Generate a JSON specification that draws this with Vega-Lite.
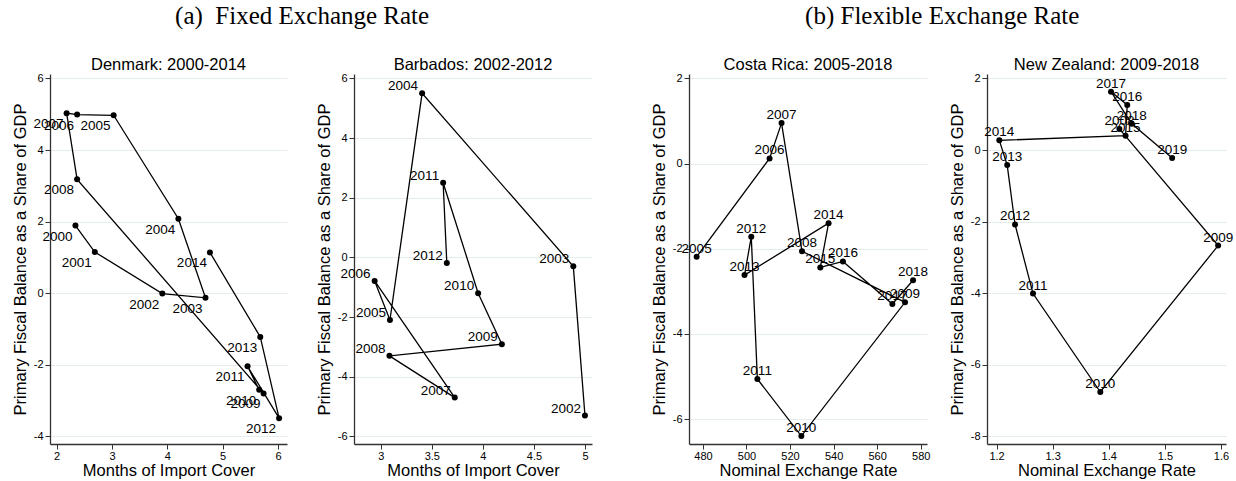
{
  "$schema": "https://vega.github.io/schema/vega-lite/v6.json",
  "padding": {"left": 12, "top": 4, "right": 0, "bottom": 0},
  "background": "white",
  "config": {
    "view": {"stroke": null},
    "font": "Liberation Sans",
    "axis": {"domainColor": "#333333", "domainWidth": 1.3, "tickColor": "#333333", "tickSize": 5, "labelColor": "#000000", "labelFontSize": 11, "labelFont": "Liberation Sans", "titleFont": "Liberation Sans", "titleFontSize": 16.5, "titleFontWeight": "normal", "titleColor": "#000000", "labelExpr": "'' + datum.value"},
    "axisX": {"grid": false, "titlePadding": 1, "labelPadding": 1},
    "axisY": {"grid": true, "gridColor": "#E4ECEE", "gridWidth": 1, "labelPadding": 2, "titlePadding": 5},
    "title": {"fontSize": 16.5, "fontWeight": "normal", "font": "Liberation Sans", "color": "#000000", "offset": -1.4}
  },
  "datasets": {
    "denmark": [
      {"year": 2000, "x": 2.34, "y": 1.89},
      {"year": 2001, "x": 2.69, "y": 1.15},
      {"year": 2002, "x": 3.91, "y": -0.01},
      {"year": 2003, "x": 4.69, "y": -0.13},
      {"year": 2004, "x": 4.20, "y": 2.08},
      {"year": 2005, "x": 3.03, "y": 4.97},
      {"year": 2006, "x": 2.37, "y": 4.99},
      {"year": 2007, "x": 2.18, "y": 5.03},
      {"year": 2008, "x": 2.37, "y": 3.18},
      {"year": 2009, "x": 5.74, "y": -2.80},
      {"year": 2010, "x": 5.66, "y": -2.70},
      {"year": 2011, "x": 5.45, "y": -2.04},
      {"year": 2012, "x": 6.02, "y": -3.49},
      {"year": 2013, "x": 5.68, "y": -1.22},
      {"year": 2014, "x": 4.77, "y": 1.14}
    ],
    "barbados": [
      {"year": 2002, "x": 5.00, "y": -5.30},
      {"year": 2003, "x": 4.886, "y": -0.30},
      {"year": 2004, "x": 3.405, "y": 5.50},
      {"year": 2005, "x": 3.09, "y": -2.10},
      {"year": 2006, "x": 2.94, "y": -0.79},
      {"year": 2007, "x": 3.725, "y": -4.70},
      {"year": 2008, "x": 3.085, "y": -3.30},
      {"year": 2009, "x": 4.186, "y": -2.91},
      {"year": 2010, "x": 3.954, "y": -1.20},
      {"year": 2011, "x": 3.611, "y": 2.50},
      {"year": 2012, "x": 3.647, "y": -0.19}
    ],
    "costarica": [
      {"year": 2005, "x": 477.1, "y": -2.19},
      {"year": 2006, "x": 510.6, "y": 0.12},
      {"year": 2007, "x": 516.1, "y": 0.95},
      {"year": 2008, "x": 525.5, "y": -2.06},
      {"year": 2009, "x": 572.8, "y": -3.26},
      {"year": 2010, "x": 525.2, "y": -6.40},
      {"year": 2011, "x": 505.0, "y": -5.06},
      {"year": 2012, "x": 502.2, "y": -1.72},
      {"year": 2013, "x": 499.1, "y": -2.62},
      {"year": 2014, "x": 537.7, "y": -1.40},
      {"year": 2015, "x": 533.9, "y": -2.44},
      {"year": 2016, "x": 544.3, "y": -2.30},
      {"year": 2017, "x": 567.0, "y": -3.30},
      {"year": 2018, "x": 576.5, "y": -2.74}
    ],
    "newzealand": [
      {"year": 2008, "x": 1.419, "y": 0.59},
      {"year": 2009, "x": 1.595, "y": -2.67},
      {"year": 2010, "x": 1.385, "y": -6.76},
      {"year": 2011, "x": 1.265, "y": -4.01},
      {"year": 2012, "x": 1.233, "y": -2.08},
      {"year": 2013, "x": 1.219, "y": -0.42},
      {"year": 2014, "x": 1.205, "y": 0.27},
      {"year": 2015, "x": 1.430, "y": 0.40},
      {"year": 2016, "x": 1.433, "y": 1.26},
      {"year": 2017, "x": 1.404, "y": 1.63},
      {"year": 2018, "x": 1.441, "y": 0.73},
      {"year": 2019, "x": 1.513, "y": -0.22}
    ]
  },
  "spacing": 59,
  "hconcat": [
    {
      "title": {"text": "(a)\u00a0 Fixed Exchange Rate", "font": "Liberation Serif", "fontSize": 25, "offset": 28, "anchor": "middle"},
      "spacing": 29,
      "hconcat": [
        {
          "title": "Denmark: 2000-2014",
          "width": 237, "height": 370,
          "data": {"name": "denmark"},
          "encoding": {
            "x": {"field": "x", "type": "quantitative", "scale": {"domain": [1.88, 6.163], "nice": false, "zero": false}, "axis": {"values": [2, 3, 4, 5, 6], "title": "Months of Import Cover"}},
            "y": {"field": "y", "type": "quantitative", "scale": {"domain": [-4.212, 6.123], "nice": false, "zero": false}, "axis": {"values": [-4, -2, 0, 2, 4, 6], "title": "Primary Fiscal Balance as a Share of GDP"}}
          },
          "layer": [
            {"mark": {"type": "line", "color": "#000000", "strokeWidth": 1.3}, "encoding": {"order": {"field": "year", "type": "quantitative"}}},
            {"mark": {"type": "point", "filled": true, "color": "#000000", "size": 36, "opacity": 1}},
            {"mark": {"type": "text", "align": "right", "baseline": "middle", "dx": -3, "dy": 11, "fontSize": 13.5, "color": "#000000"}, "encoding": {"text": {"field": "year", "type": "nominal"}}}
          ]
        },
        {
          "title": "Barbados: 2002-2012",
          "width": 238, "height": 370,
          "data": {"name": "barbados"},
          "encoding": {
            "x": {"field": "x", "type": "quantitative", "scale": {"domain": [2.738, 5.069], "nice": false, "zero": false}, "axis": {"values": [3, 3.5, 4, 4.5, 5], "title": "Months of Import Cover"}},
            "y": {"field": "y", "type": "quantitative", "scale": {"domain": [-6.255, 6.147], "nice": false, "zero": false}, "axis": {"values": [-6, -4, -2, 0, 2, 4, 6], "title": "Primary Fiscal Balance as a Share of GDP"}}
          },
          "layer": [
            {"mark": {"type": "line", "color": "#000000", "strokeWidth": 1.3}, "encoding": {"order": {"field": "year", "type": "quantitative"}}},
            {"mark": {"type": "point", "filled": true, "color": "#000000", "size": 36, "opacity": 1}},
            {"mark": {"type": "text", "align": "right", "baseline": "middle", "dx": -4, "dy": -7, "fontSize": 13.5, "color": "#000000"}, "encoding": {"text": {"field": "year", "type": "nominal"}}}
          ]
        }
      ]
    },
    {
      "title": {"text": "(b) Flexible Exchange Rate", "font": "Liberation Serif", "fontSize": 25, "offset": 28, "anchor": "middle"},
      "spacing": 19,
      "hconcat": [
        {
          "title": "Costa Rica: 2005-2018",
          "width": 238, "height": 370,
          "data": {"name": "costarica"},
          "encoding": {
            "x": {"field": "x", "type": "quantitative", "scale": {"domain": [473.6, 582.9], "nice": false, "zero": false}, "axis": {"values": [480, 500, 520, 540, 560, 580], "title": "Nominal Exchange Rate"}},
            "y": {"field": "y", "type": "quantitative", "scale": {"domain": [-6.587, 2.103], "nice": false, "zero": false}, "axis": {"values": [-6, -4, -2, 0, 2], "title": "Primary Fiscal Balance as a Share of GDP"}}
          },
          "layer": [
            {"mark": {"type": "line", "color": "#000000", "strokeWidth": 1.3}, "encoding": {"order": {"field": "year", "type": "quantitative"}}},
            {"mark": {"type": "point", "filled": true, "color": "#000000", "size": 36, "opacity": 1}},
            {"mark": {"type": "text", "align": "center", "baseline": "middle", "dx": 0, "dy": -8, "fontSize": 13.5, "color": "#000000"}, "encoding": {"text": {"field": "year", "type": "nominal"}}}
          ]
        },
        {
          "title": "New Zealand: 2009-2018",
          "width": 239, "height": 370,
          "data": {"name": "newzealand"},
          "encoding": {
            "x": {"field": "x", "type": "quantitative", "scale": {"domain": [1.183, 1.609], "nice": false, "zero": false}, "axis": {"values": [1.2, 1.3, 1.4, 1.5, 1.6], "title": "Nominal Exchange Rate"}},
            "y": {"field": "y", "type": "quantitative", "scale": {"domain": [-8.212, 2.123], "nice": false, "zero": false}, "axis": {"values": [-8, -6, -4, -2, 0, 2], "title": "Primary Fiscal Balance as a Share of GDP"}}
          },
          "layer": [
            {"mark": {"type": "line", "color": "#000000", "strokeWidth": 1.3}, "encoding": {"order": {"field": "year", "type": "quantitative"}}},
            {"mark": {"type": "point", "filled": true, "color": "#000000", "size": 36, "opacity": 1}},
            {"mark": {"type": "text", "align": "center", "baseline": "middle", "dx": 0, "dy": -8, "fontSize": 13.5, "color": "#000000"}, "encoding": {"text": {"field": "year", "type": "nominal"}}}
          ]
        }
      ]
    }
  ]
}
